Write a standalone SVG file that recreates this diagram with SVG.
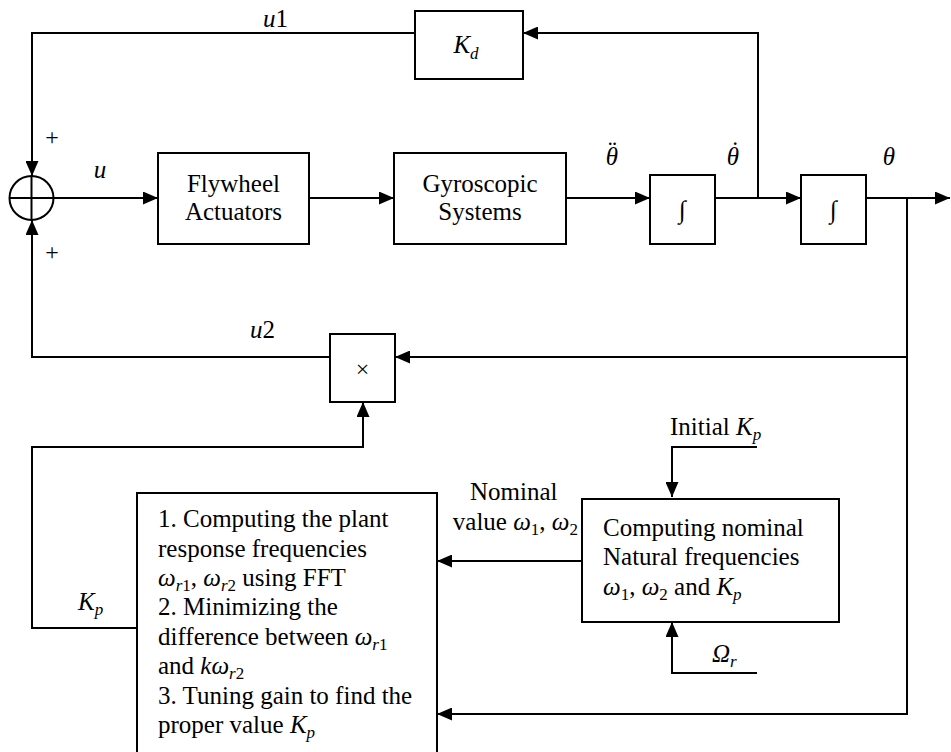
<svg xmlns="http://www.w3.org/2000/svg" width="951" height="752" viewBox="0 0 951 752" font-family="'Liberation Serif','DejaVu Serif',serif">
<style>
text, tspan { font-family: "Liberation Serif","DejaVu Serif",serif; }
text { font-size: 25px; fill: #000; }
.box { fill: #fff; stroke: #000; stroke-width: 2; }
.wire { fill: none; stroke: #000; stroke-width: 2; }
.arr { marker-end: url(#ah); }
.it { font-style: italic; }
.sb { font-size: 17px; }
.mid { text-anchor: middle; }
.fin { text-anchor: end; }
.sym { font-size: 24px; }
</style>
<defs>
<marker id="ah" markerUnits="userSpaceOnUse" markerWidth="15" markerHeight="13" refX="15" refY="6.5" orient="auto">
<path d="M0,0 L15,6.5 L0,13 z" fill="#000"/>
</marker>
</defs>
<rect x="0" y="0" width="951" height="752" fill="#fff"/>

<g id="connectors">
<path class="wire arr" d="M415,33 H32 V176"/>
<path class="wire arr" d="M758,198 V33 H523"/>
<path class="wire arr" d="M54,198 H158"/>
<path class="wire arr" d="M309,198 H394"/>
<path class="wire arr" d="M566,198 H650"/>
<path class="wire arr" d="M715,198 H801"/>
<path class="wire arr" d="M866,198 H950"/>
<path class="wire arr" d="M907,198 V714 H437"/>
<path class="wire arr" d="M907,357 H395"/>
<path class="wire arr" d="M330,357 H32 V220"/>
<path class="wire arr" d="M137,628 H32 V447 H363 V402"/>
<path class="wire arr" d="M582,561 H437"/>
<path class="wire arr" d="M757,447 H672 V497"/>
<path class="wire arr" d="M757,673 H672 V622"/>
</g>

<g id="sum">
<circle cx="31.5" cy="198" r="22" fill="#fff" stroke="#000" stroke-width="2"/>
<path class="wire" d="M9.5,198 H53.5 M31.5,176 V220"/>
<text x="52" y="145" class="mid sym">+</text>
<text x="52" y="260" class="mid sym">+</text>
</g>

<g id="kd">
<rect class="box" x="415" y="11" width="108" height="68"/>
<text x="466" y="53" class="mid"><tspan class="it">K</tspan><tspan class="it sb" dy="6">d</tspan></text>
</g>

<g id="flywheel">
<rect class="box" x="158" y="153" width="151" height="91"/>
<text x="233.5" y="192" class="mid">Flywheel</text>
<text x="233.5" y="220" class="mid">Actuators</text>
</g>

<g id="gyro">
<rect class="box" x="394" y="153" width="172" height="91"/>
<text x="480" y="192" class="mid">Gyroscopic</text>
<text x="480" y="220" class="mid">Systems</text>
</g>

<g id="int1">
<rect class="box" x="650" y="175" width="65" height="69"/>
<text x="682.5" y="218" class="mid">∫</text>
</g>

<g id="int2">
<rect class="box" x="801" y="175" width="65" height="69"/>
<text x="833.5" y="218" class="mid">∫</text>
</g>

<g id="mult">
<rect class="box" x="330" y="334" width="65" height="68"/>
<text x="362.5" y="377" class="mid sym">×</text>
</g>

<g id="tuning">
<rect class="box" x="137" y="493" width="300" height="270"/>
<text x="158" y="527">1. Computing the plant</text>
<text x="158" y="556.5">response frequencies</text>
<text x="158" y="586"><tspan class="it">ω</tspan><tspan class="it sb" dy="5">r</tspan><tspan class="sb">1</tspan><tspan dy="-5">, </tspan><tspan class="it">ω</tspan><tspan class="it sb" dy="5">r</tspan><tspan class="sb">2</tspan><tspan dy="-5"> using FFT</tspan></text>
<text x="158" y="615">2. Minimizing the</text>
<text x="158" y="644.5">difference between <tspan class="it">ω</tspan><tspan class="it sb" dy="5">r</tspan><tspan class="sb">1</tspan></text>
<text x="158" y="674">and <tspan class="it">kω</tspan><tspan class="it sb" dy="5">r</tspan><tspan class="sb">2</tspan></text>
<text x="158" y="703.5">3. Tuning gain to find the</text>
<text x="158" y="733">proper value <tspan class="it">K</tspan><tspan class="it sb" dy="5">p</tspan></text>
</g>

<g id="nominal">
<rect class="box" x="582" y="499" width="257" height="123"/>
<text x="603" y="536">Computing nominal</text>
<text x="603" y="565">Natural frequencies</text>
<text x="603" y="595"><tspan class="it">ω</tspan><tspan class="sb" dy="5">1</tspan><tspan dy="-5">, </tspan><tspan class="it">ω</tspan><tspan class="sb" dy="5">2</tspan><tspan dy="-5"> and </tspan><tspan class="it">K</tspan><tspan class="it sb" dy="5">p</tspan></text>
</g>

<g id="labels">
<text x="263" y="27"><tspan class="it">u</tspan>1</text>
<text x="100" y="178" class="mid it">u</text>
<text x="612" y="165" class="mid"><tspan class="it">θ</tspan><tspan dx="-10" dy="-6">¨</tspan></text>
<text x="733" y="165" class="mid"><tspan class="it">θ</tspan><tspan dx="-8" dy="-6">˙</tspan></text>
<text x="889" y="165" class="mid it">θ</text>
<text x="250" y="338"><tspan class="it">u</tspan>2</text>
<text x="78" y="610"><tspan class="it">K</tspan><tspan class="it sb" dy="5">p</tspan></text>
<text x="470" y="500">Nominal</text>
<text x="578" y="530" class="fin">value <tspan class="it">ω</tspan><tspan class="sb" dy="5">1</tspan><tspan dy="-5">, </tspan><tspan class="it">ω</tspan><tspan class="sb" dy="5">2</tspan></text>
<text x="670" y="435">Initial <tspan class="it">K</tspan><tspan class="it sb" dy="5">p</tspan></text>
<text x="712" y="662"><tspan class="it">Ω</tspan><tspan class="it sb" dy="5">r</tspan></text>
</g>
</svg>
